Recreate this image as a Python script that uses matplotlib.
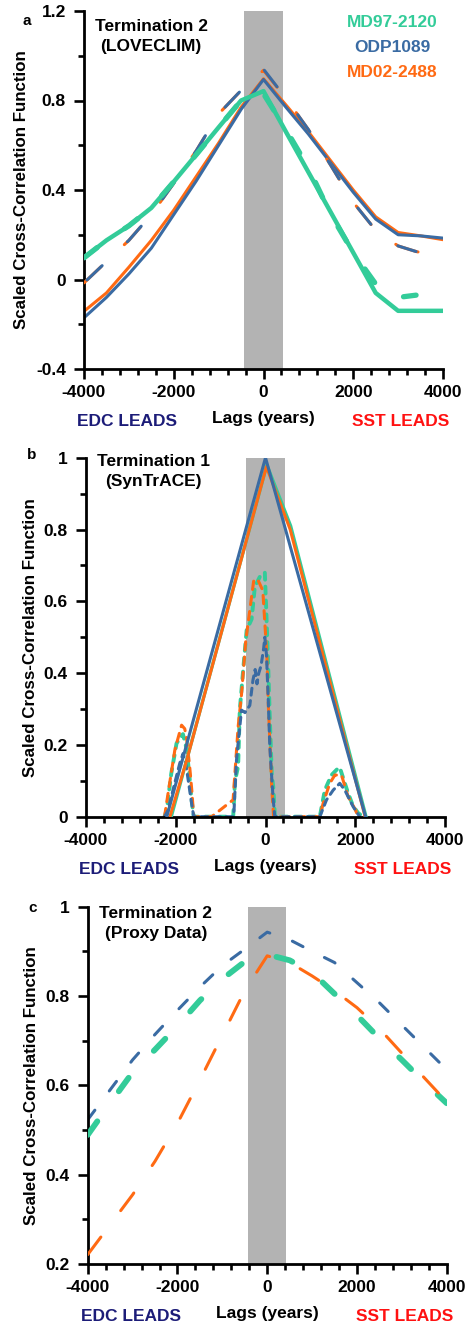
import matplotlib
matplotlib.use('Agg')
import matplotlib.pyplot as plt
from matplotlib.ticker import MultipleLocator, FuncFormatter

plt.rcParams['font.family'] = 'Liberation Sans'
plt.rcParams['font.weight'] = 'bold'
plt.rcParams['axes.labelweight'] = 'bold'
plt.rcParams['axes.unicode_minus'] = False
plt.rcParams['lines.scale_dashes'] = False

GREEN = '#33cc99'
BLUE = '#3a6ba3'
ORANGE = '#ff6a13'
NAVY = '#1c1c78'
RED = '#ff1111'
BAND = '#b3b3b3'

# ---- a: Termination 2, LOVECLIM ----
lags_a = [-4000, -3500, -3000, -2500, -2000, -1500, -1000, -500, 0,
          500, 1000, 1500, 2000, 2500, 3000, 3500, 4000]
a_md97_solid = [0.097, 0.175, 0.24, 0.32, 0.437, 0.558, 0.68, 0.80, 0.842,
                0.66, 0.48, 0.30, 0.12, -0.06, -0.14, -0.14, -0.14]
a_odp_solid = [-0.171, -0.08, 0.025, 0.14, 0.29, 0.44, 0.60, 0.76, 0.894,
               0.77, 0.65, 0.52, 0.39, 0.27, 0.20, 0.195, 0.185]
a_md02_solid = [-0.142, -0.06, 0.055, 0.175, 0.31, 0.46, 0.61, 0.77, 0.897,
                0.78, 0.66, 0.53, 0.40, 0.28, 0.21, 0.195, 0.178]

lags_a_dash = [-4000, -3500, -3000, -2500, -2000, -1500, -1000, -500, 0,
               500, 1000, 1500, 2000, 2500, 3000, 3400, 4000]
a_md97_dash = [0.097, 0.175, 0.24, 0.32, 0.437, 0.558, 0.68, 0.80, 0.83,
               0.67, 0.50, 0.29, 0.12, -0.02, -0.08, -0.07]
a_odp_dash = [-0.015, 0.08, 0.175, 0.29, 0.43, 0.575, 0.74, 0.845, 0.94,
              0.81, 0.67, 0.51, 0.345, 0.22, 0.15, 0.125]
a_md02_dash = [-0.015, 0.08, 0.175, 0.29, 0.43, 0.575, 0.74, 0.845, 0.935,
               0.81, 0.67, 0.51, 0.345, 0.22, 0.15, 0.125, 0.10]

# ---- b: Termination 1, SynTrACE ----
b_odp_solid_lags = [-2200, 0, 2230]
b_odp_solid = [0.0, 1.0, 0.0]
b_md02_solid_lags = [-2130, -1750, 20, 550, 2220]
b_md02_solid = [0.0, 0.16, 0.975, 0.80, 0.0]
b_md97_solid_lags = [-2100, 30, 560, 2240]
b_md97_solid = [0.0, 0.98, 0.81, 0.0]

b_md02_dash_lags = [-2250, -2170, -2020, -1870, -1800, -1760, -1690, -1640,
                    -1600, -1200, -722, -610, -535, -440, -350, -260, -170,
                    -60, 30, 60, 100, 140, 180, 250, 800, 1210, 1284, 1433,
                    1545, 1693, 1842, 2000, 2065]
b_md02_dash = [0.0, 0.066, 0.186, 0.255, 0.245, 0.22, 0.14, 0.07,
               0.0, 0.0, 0.047, 0.25, 0.34, 0.49, 0.575, 0.66, 0.66,
               0.63, 0.45, 0.32, 0.20, 0.08, 0.0, 0.0, 0.0, 0.0, 0.037, 0.093,
               0.116, 0.116, 0.056, 0.02, 0.0]

b_md97_dash_lags = [-2250, -2200, -2100, -1983, -1900, -1840, -1760, -1700,
                    -1650, -1600, -1200, -720, -680, -610, -573, -490, -420,
                    -310, -238, -120, -15, 22, 60, 100, 140, 175, 210, 900,
                    1210, 1322, 1470, 1618, 1656, 1750, 1842, 1950, 2065, 2180]
b_md97_dash = [0.0, 0.02, 0.12, 0.204, 0.22, 0.23, 0.19, 0.12,
               0.05, 0.0, 0.0, 0.0, 0.10, 0.14, 0.297, 0.42, 0.52,
               0.55, 0.64, 0.67, 0.68, 0.557, 0.42, 0.26, 0.12, 0.08, 0.0, 0.0,
               0.0, 0.074, 0.116, 0.135, 0.137, 0.10, 0.065, 0.03, 0.01, 0.0]

b_odp_dash_lags = [-2250, -2170, -2050, -1910, -1836, -1780, -1720, -1650,
                   -1600, -1300, -720, -700, -646, -535, -457, -350, -280,
                   -230, -190, -150, -100, -40, -15, 22, 60, 96, 133, 170, 207,
                   900, 1210, 1360, 1508, 1656, 1767, 1953, 2100]
b_odp_dash = [0.0, 0.018, 0.08, 0.149, 0.176, 0.15, 0.10, 0.04,
              0.0, 0.0, 0.0, 0.02, 0.158, 0.297, 0.29, 0.31, 0.38,
              0.41, 0.37, 0.40, 0.42, 0.47, 0.50, 0.45, 0.33, 0.195, 0.12, 0.05,
              0.0, 0.0, 0.0, 0.047, 0.074, 0.093, 0.074, 0.028, 0.0]

# ---- c: Termination 2, proxy data ----
lags_c = [-4000, -3500, -3000, -2500, -2000, -1500, -1000, -500, 0,
          500, 1000, 1500, 2000, 2500, 3000, 3500, 4000]
c_odp = [0.523, 0.59, 0.657, 0.714, 0.768, 0.82, 0.868, 0.905, 0.943,
         0.926, 0.90, 0.875, 0.83, 0.785, 0.735, 0.685, 0.635]
c_md97 = [0.489, 0.56, 0.629, 0.68, 0.733, 0.79, 0.838, 0.877, 0.893,
          0.88, 0.853, 0.805, 0.757, 0.705, 0.657, 0.607, 0.56]
c_md02 = [0.221, 0.288, 0.355, 0.43, 0.515, 0.612, 0.712, 0.812, 0.89,
          0.875, 0.845, 0.812, 0.774, 0.727, 0.672, 0.617, 0.563]

cores = ['MD97-2120', 'ODP1089', 'MD02-2488']
core_colors = [GREEN, BLUE, ORANGE]

W, H = 467, 1326
fig = plt.figure(figsize=(W / 100, H / 100), dpi=100)


def px_axes(left, top, right, bottom):
    return fig.add_axes([left / W, 1 - bottom / H, (right - left) / W, (bottom - top) / H])


def style_axes(ax, ylim, yticks, yminor):
    ax.set_xlim(-4000, 4000)
    ax.set_ylim(*ylim)
    for side in ['top', 'right']:
        ax.spines[side].set_visible(False)
    for side in ['left', 'bottom']:
        ax.spines[side].set_linewidth(2)
    ax.set_xticks([-4000, -2000, 0, 2000, 4000])
    ax.xaxis.set_minor_locator(MultipleLocator(400))
    ax.set_yticks(yticks)
    ax.yaxis.set_minor_locator(MultipleLocator(yminor))
    fmt = FuncFormatter(lambda v, p: f'{v:g}')
    ax.xaxis.set_major_formatter(fmt)
    ax.yaxis.set_major_formatter(fmt)
    ax.tick_params(which='major', length=7, width=1.9, labelsize=12.5)
    ax.tick_params(axis='x', which='major', pad=4.5)
    ax.tick_params(axis='y', which='major', pad=6)
    ax.tick_params(which='minor', length=4, width=1.9)
    ax.axvspan(-430, 430, color=BAND, lw=0, zorder=0)
    ax.set_ylabel('Scaled Cross-Correlation Function', fontsize=12.2, fontweight='bold')
    # lead / lag annotations under the x axis
    ax.annotate('EDC LEADS', xy=(0.12, 0), xycoords='axes fraction', xytext=(0, -38),
                textcoords='offset points', ha='center', va='center', color=NAVY, fontsize=12.5)
    ax.annotate('Lags (years)', xy=(0.5, 0), xycoords='axes fraction', xytext=(0, -35.5),
                textcoords='offset points', ha='center', va='center', color='black', fontsize=12.5)
    ax.annotate('SST LEADS', xy=(0.883, 0), xycoords='axes fraction', xytext=(0, -38),
                textcoords='offset points', ha='center', va='center', color=RED, fontsize=12.5)


def title(ax, x, y1, y2, line1, line2):
    ax.text(x, y1, line1, transform=ax.transAxes, ha='center', va='center', fontsize=12.5)
    ax.text(x, y2, line2, transform=ax.transAxes, ha='center', va='center', fontsize=12.5)


cap = dict(solid_capstyle='round', dash_capstyle='round')

# panel a
ax = px_axes(84, 11, 443, 369)
style_axes(ax, (-0.4, 1.2), [-0.4, 0, 0.4, 0.8, 1.2], 0.2)
ax.yaxis.set_label_coords(-0.152, 0.5)
ax.plot(lags_a, a_md02_solid, color=ORANGE, lw=2.2, zorder=2, **cap)
ax.plot(lags_a, a_odp_solid, color=BLUE, lw=2.2, zorder=2, **cap)
ax.plot(lags_a_dash, a_md02_dash, color=ORANGE, lw=2.2, ls=(0, (17, 23)), zorder=3, **cap)
ax.plot(lags_a_dash[:len(a_odp_dash)], a_odp_dash, color=BLUE, lw=2.2,
        ls=(-3, (15, 25)), zorder=3, **cap)
ax.plot(lags_a_dash[:len(a_md97_dash)], a_md97_dash, color=GREEN, lw=3.8,
        ls=(0, (12, 24)), zorder=4, **cap)
ax.plot(lags_a, a_md97_solid, color=GREEN, lw=3.2, zorder=4, **cap)
title(ax, 0.187, 0.956, 0.901, 'Termination 2', '(LOVECLIM)')
for name, color, yy in zip(cores, core_colors, [0.969, 0.899, 0.827]):
    ax.text(0.858, yy, name, transform=ax.transAxes, ha='center', va='center',
            color=color, fontsize=12.5)
fig.text(27 / W, 1 - 21 / H, 'a', ha='center', va='center', fontsize=11)

# panel b
ax = px_axes(86, 457.7, 445, 816.7)
style_axes(ax, (0, 1), [0, 0.2, 0.4, 0.6, 0.8, 1.0], 0.1)
ax.yaxis.set_label_coords(-0.134, 0.5)
ax.plot(b_md97_dash_lags, b_md97_dash, color=GREEN, lw=2.8, ls=(0, (5, 5)), zorder=2, **cap)
ax.plot(b_md02_dash_lags, b_md02_dash, color=ORANGE, lw=2.2, ls=(0, (6, 5)), zorder=2, **cap)
ax.plot(b_odp_dash_lags, b_odp_dash, color=BLUE, lw=2.2, ls=(0, (5, 4)), zorder=2, **cap)
ax.plot(b_md97_solid_lags, b_md97_solid, color=GREEN, lw=2.4, zorder=3, **cap)
ax.plot(b_md02_solid_lags, b_md02_solid, color=ORANGE, lw=2.2, zorder=3, **cap)
ax.plot(b_odp_solid_lags, b_odp_solid, color=BLUE, lw=2.2, zorder=3, **cap)
title(ax, 0.187, 0.989, 0.933, 'Termination 1', '(SynTrACE)')
fig.text(31.7 / W, 1 - 455 / H, 'b', ha='center', va='center', fontsize=11)

# panel c
ax = px_axes(87.7, 906.7, 446.7, 1264)
style_axes(ax, (0.2, 1), [0.2, 0.4, 0.6, 0.8, 1.0], 0.1)
ax.yaxis.set_label_coords(-0.135, 0.5)
ax.plot(lags_c, c_odp, color=BLUE, lw=2.2, ls=(0, (8.6, 17.3)), zorder=2, **cap)
ax.plot(lags_c, c_md97, color=GREEN, lw=4.2, ls=(0, (12, 26.6)), zorder=3, **cap)
ax.plot(lags_c, c_md02, color=ORANGE, lw=2.2, ls=(0, (15.8, 23.8)), zorder=4, **cap)
title(ax, 0.19, 0.981, 0.924, 'Termination 2', '(Proxy Data)')
fig.text(32.3 / W, 1 - 908 / H, 'c', ha='center', va='center', fontsize=11)

fig.savefig('out.png', dpi=100)
